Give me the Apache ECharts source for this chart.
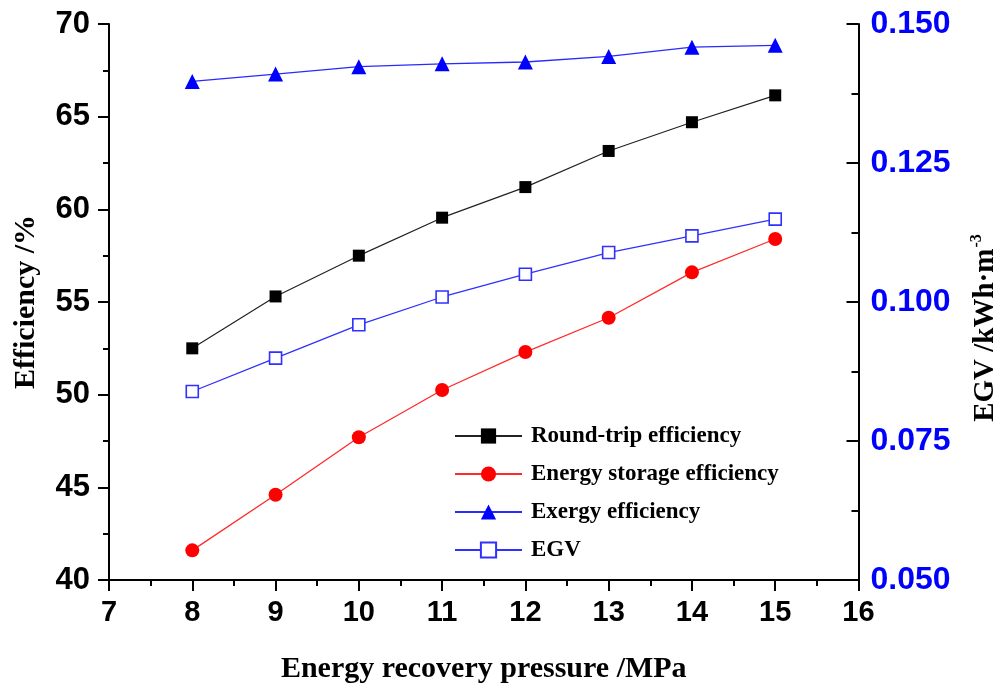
<!DOCTYPE html>
<html>
<head>
<meta charset="utf-8">
<script src="https://cdn.jsdelivr.net/npm/echarts@6/dist/echarts.min.js"></script>
<style>
  html, body { margin: 0; padding: 0; background: #fff; }
  #chart { width: 1008px; height: 689px; }
</style>
</head>
<body>
<div id="chart"></div>
<script>
// Energy recovery pressure (MPa)
const pressure = [8, 9, 10, 11, 12, 13, 14, 15];
// Efficiencies (%)
const roundTrip = [52.5, 55.3, 57.5, 59.55, 61.2, 63.15, 64.7, 66.15];
const storage = [41.6, 44.6, 47.7, 50.25, 52.3, 54.15, 56.6, 58.4];
const exergy = [66.9, 67.3, 67.7, 67.85, 67.95, 68.25, 68.75, 68.85];
// Energy generation per volume (kWh/m3)
const egv = [0.0839, 0.0899, 0.0959, 0.1009, 0.1050, 0.1089, 0.1119, 0.1149];

const seriesNames = ['Round-trip efficiency', 'Energy storage efficiency', 'Exergy efficiency', 'EGV'];

const pair = (ys) => pressure.map((x, i) => [x, ys[i]]);

const sans = 'Liberation Sans, Arial, sans-serif';
const serif = 'Liberation Serif, Times New Roman, serif';

const axisLine = { show: true, lineStyle: { color: '#000', width: 2 } };

const chart = echarts.init(document.getElementById('chart'), null, { renderer: 'canvas' });
chart.setOption({
  animation: false,
  backgroundColor: '#fff',
  grid: { left: 109, right: 142, top: 24, bottom: 109, containLabel: false },
  legend: {
    orient: 'vertical',
    left: 449,
    top: 419,
    itemWidth: 67,
    itemHeight: 19,
    itemGap: 14,
    data: seriesNames,
    textStyle: { fontFamily: serif, fontWeight: 'bold', fontSize: 23, color: '#000', lineHeight: 24, padding: [0, 0, 0, 4] }
  },
  xAxis: {
    type: 'value',
    min: 7, max: 16, interval: 1,
    name: 'Energy recovery pressure /MPa',
    nameLocation: 'middle',
    nameGap: 74,
    nameTextStyle: { fontFamily: serif, fontWeight: 'bold', fontSize: 30, color: '#000' },
    axisLine: axisLine,
    axisTick: { show: true, inside: false, length: 11, lineStyle: { color: '#000', width: 2 } },
    minorTick: { show: true, splitNumber: 2, length: 6, lineStyle: { color: '#000', width: 2 } },
    splitLine: { show: false },
    axisLabel: { fontFamily: sans, fontWeight: 'bold', fontSize: 29, color: '#000', margin: 18 }
  },
  yAxis: [
    {
      type: 'value',
      position: 'left',
      min: 40, max: 70, interval: 5,
      name: 'Efficiency /%',
      nameLocation: 'middle',
      nameRotate: 90,
      nameGap: 68,
      nameTextStyle: { fontFamily: serif, fontWeight: 'bold', fontSize: 30, color: '#000' },
      axisLine: axisLine,
      axisTick: { show: true, inside: false, length: 11, lineStyle: { color: '#000', width: 2 } },
      minorTick: { show: true, splitNumber: 2, length: 6, lineStyle: { color: '#000', width: 2 } },
      splitLine: { show: false },
      axisLabel: { fontFamily: sans, fontWeight: 'bold', fontSize: 31, color: '#000', margin: 19 }
    },
    {
      type: 'value',
      position: 'right',
      min: 0.05, max: 0.15, interval: 0.025,
      name: '{a|EGV /kWh·m}{s|-3}',
      nameLocation: 'middle',
      nameRotate: 90,
      nameGap: 110,
      nameTextStyle: {
        padding: [0, 52, 0, 0],
        rich: {
          a: { fontFamily: serif, fontWeight: 'bold', fontSize: 29, color: '#000' },
          s: { fontFamily: serif, fontWeight: 'bold', fontSize: 16, color: '#000', padding: [0, 0, 18, 1] }
        }
      },
      axisLine: axisLine,
      axisTick: { show: true, inside: true, length: 12, lineStyle: { color: '#000', width: 2 } },
      minorTick: { show: true, splitNumber: 2, length: 7, lineStyle: { color: '#000', width: 2 } },
      splitLine: { show: false },
      axisLabel: {
        fontFamily: sans, fontWeight: 'bold', fontSize: 32, color: '#0000ff', margin: 12,
        formatter: (v) => v.toFixed(3)
      }
    }
  ],
  series: [
    {
      name: seriesNames[0], type: 'line', yAxisIndex: 0, data: pair(roundTrip),
      symbol: 'rect', symbolSize: 12,
      itemStyle: { color: '#000' },
      lineStyle: { color: '#222', width: 1.2 }
    },
    {
      name: seriesNames[1], type: 'line', yAxisIndex: 0, data: pair(storage),
      symbol: 'circle', symbolSize: 14,
      itemStyle: { color: '#ff0000' },
      lineStyle: { color: '#ff2a2a', width: 1.3 }
    },
    {
      name: seriesNames[2], type: 'line', yAxisIndex: 0, data: pair(exergy),
      symbol: 'triangle', symbolSize: 15,
      itemStyle: { color: '#0000ff' },
      lineStyle: { color: '#2a2aff', width: 1.3 }
    },
    {
      name: seriesNames[3], type: 'line', yAxisIndex: 1, data: pair(egv),
      symbol: 'rect', symbolSize: 12,
      itemStyle: { color: '#fff', borderColor: '#3030ff', borderWidth: 1.6 },
      lineStyle: { color: '#3030ff', width: 1.3 }
    }
  ]
});
</script>
</body>
</html>
